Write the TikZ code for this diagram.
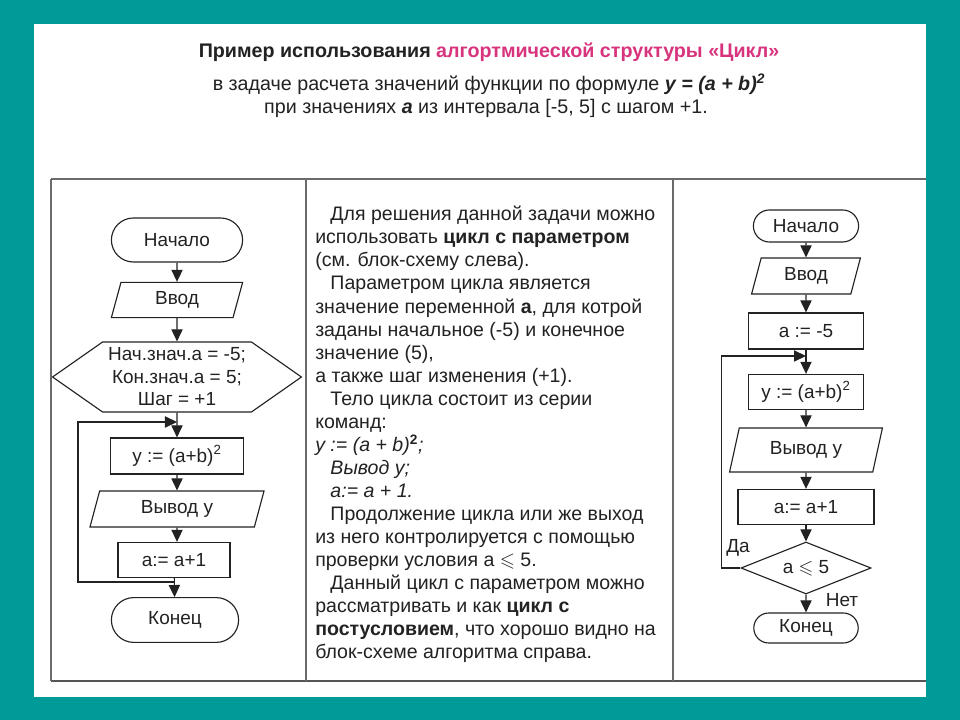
\documentclass[tikz,border=0pt]{standalone}
\usepackage{amssymb}
\usepackage{fontspec}
\setmainfont{Liberation Sans}
\usetikzlibrary{arrows.meta,shapes.geometric,shapes.misc,shapes.symbols}
\definecolor{tealBack}{HTML}{009B98}
\definecolor{pinkTitle}{HTML}{D8347E}
\definecolor{inkText}{HTML}{222222}
\definecolor{gridLine}{HTML}{6A6A6A}
\newcommand{\ind}{\hspace*{0.38cm}}

\begin{document}
\begin{tikzpicture}[x=0.025cm, y=-0.025cm, font=\fontsize{13.5}{16}\selectfont, text=inkText,
  base/.style={draw=inkText, line width=0.8pt, inner sep=1pt, align=center},
  term/.style={base, rounded rectangle},
  io/.style={base, trapezium, trapezium left angle=64, trapezium right angle=116, trapezium stretches body},
  box/.style={base, rectangle},
  prep/.style={base, signal, signal to=west and east, signal pointer angle=70},
  cond/.style={base, diamond, aspect=2.5},
  arr/.style={draw=inkText, line width=0.8pt, -{Triangle[length=0.3cm, width=0.28cm]}}]
  % background and white sheet
  \fill[tealBack] (0,0) rectangle (960,720);
  \fill[white] (34,24) rectangle (926,697);
  \useasboundingbox (0,0) rectangle (960,720);
  % heading
  \node[font=\fontsize{14}{16}\selectfont\bfseries] (head) at (489,52) {Пример использования \textcolor{pinkTitle}{алгортмической структуры «Цикл»}};
  \node[font=\fontsize{14}{16}\selectfont] (task) at (489,84) {в задаче расчета значений функции по формуле \textbf{\textit{y = (a + b)}}\textsuperscript{\textbf{\textit{2}}}};
  \node[font=\fontsize{14}{16}\selectfont] (range) at (486,108) {при значениях \textbf{\textit{a}} из интервала [-5, 5] с шагом +1.};
  % table
  \draw[gridLine, line width=1.2pt] (51,179) -- (926,179);
  \draw[gridLine!80!black, line width=2pt] (51,681) -- (926,681);
  \foreach \xc in {51,306,673} \draw[gridLine, line width=1.2pt] (\xc,179) -- (\xc,681);

  % left chart: loop with parameter
  \node[term, minimum width=3.35cm, minimum height=1.1cm] (Lstart) at (177,240) {Начало};
  \node[io, minimum width=3.28cm, minimum height=0.88cm] (Lin) at (177,300) {Ввод};
  \node[prep, minimum width=6.22cm, minimum height=1.75cm] (Lprep) at (177,377) {Нач.знач.а = -5;\\Кон.знач.а = 5;\\Шаг = +1};
  \node[box, minimum width=3.32cm, minimum height=0.9cm] (Ly) at (177,456) {y := (a+b)\textsuperscript{2}};
  \node[io, minimum width=4.35cm, minimum height=0.9cm] (Lout) at (177,509) {Вывод y};
  \node[box, minimum width=2.8cm, minimum height=0.88cm] (Linc) at (174,560) {a:= a+1};
  \node[term, minimum width=3.25cm, minimum height=1.12cm] (Lend) at (175,620) {Конец};
  \coordinate (Ljoin) at (177,422);
  \coordinate (Lback) at (174,582);
  \foreach \a/\b in {Lstart/Lin, Lin/Lprep, Lprep/Ly, Ly/Lout, Linc/Lend}
    \draw[arr] (\a) -- (\b);
  \draw[arr] (Lout) -- (Lout.south |- Linc.north);
  \draw[arr] (Lback) -- ++(-96,0) |- (Ljoin);

  % middle column: explanation
  \node[anchor=north west, inner sep=0pt, align=left, font=\fontsize{13.9}{16.4}\selectfont] (note) at (315,206) {%
    \ind Для решения данной задачи можно\\
    использовать \textbf{цикл с параметром}\\
    (см. блок-схему слева).\\
    \ind Параметром цикла является\\
    значение переменной \textbf{а}, для котрой\\
    заданы начальное (-5) и конечное\\
    значение (5),\\
    а также шаг изменения (+1).\\
    \ind Тело цикла состоит из серии\\
    команд:\\
    \textit{y := (a + b)}\textsuperscript{\textbf{2}}\textit{;}\\
    \ind\textit{Вывод y;}\\
    \ind\textit{a:= a + 1.}\\
    \ind Продолжение цикла или же выход\\
    из него контролируется с помощью\\
    проверки условия а $\leqslant$ 5.\\
    \ind Данный цикл с параметром можно\\
    рассматривать и как \textbf{цикл с}\\
    \textbf{постусловием}, что хорошо видно на\\
    блок-схеме алгоритма справа.};

  % right chart: loop with postcondition
  \node[term, minimum width=2.7cm, minimum height=0.8cm] (Rstart) at (806,226) {Начало};
  \node[io, minimum width=2.72cm, minimum height=0.9cm] (Rin) at (806,276) {Ввод};
  \node[box, minimum width=2.88cm, minimum height=0.9cm] (Rinit) at (806,331) {a := -5};
  \node[box, minimum width=2.88cm, minimum height=0.88cm] (Ry) at (806,392) {y := (a+b)\textsuperscript{2}};
  \node[io, minimum width=3.82cm, minimum height=1.1cm] (Rout) at (806,450) {Вывод y};
  \node[box, minimum width=3.4cm, minimum height=0.88cm] (Rinc) at (806,507) {a:= a+1};
  \node[cond, minimum width=3.25cm, minimum height=1.3cm] (Rcond) at (806,568) {a $\leqslant$ 5};
  \node[term, minimum width=2.68cm, minimum height=0.75cm] (Rend) at (806,628) {Конец};
  \coordinate (Rjoin) at (806,356);
  \foreach \a/\b in {Rstart/Rin, Rin/Rinit, Rinit/Ry, Ry/Rout, Rout/Rinc, Rinc/Rcond, Rcond/Rend}
    \draw[arr] (\a) -- (\b);
  \draw[arr] (Rcond.west) -- ++(-19,0) |- (Rjoin);
  \node (yes) at (738,548) {Да};
  \node (no) at (842,600) {Нет};
\end{tikzpicture}
\end{document}
